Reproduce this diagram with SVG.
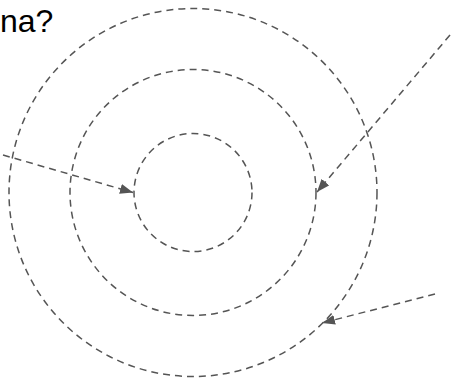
<svg xmlns="http://www.w3.org/2000/svg" width="456" height="380" viewBox="0 0 456 380">
  <style>
    .ring { fill: none; stroke: #555; stroke-width: 1.5; stroke-dasharray: 7 5; }
    .conn { fill: none; stroke: #555; stroke-width: 1.5; stroke-dasharray: 7 5; }
    .label { font-family: "Liberation Sans", Arial, sans-serif; font-size: 32px; fill: #000; }
  </style>
  <defs>
    <marker id="arrow" markerUnits="userSpaceOnUse" markerWidth="15" markerHeight="11" refX="13" refY="5" orient="auto">
      <path d="M0,0 L13,5 L0,10 z" fill="#555"/>
    </marker>
  </defs>
  <rect width="456" height="380" fill="#fff"/>
  <text class="label" x="0" y="32">na?</text>
  <g id="outer"><circle class="ring" cx="193" cy="192.5" r="184"/></g>
  <g id="middle"><circle class="ring" cx="193" cy="192.5" r="123"/></g>
  <g id="inner"><circle class="ring" cx="193" cy="192.5" r="59"/></g>
  <g id="connectors">
    <line class="conn" x1="3" y1="155" x2="133" y2="192.5" marker-end="url(#arrow)"/>
    <line class="conn" x1="450" y1="35" x2="317" y2="192" marker-end="url(#arrow)"/>
    <line class="conn" x1="435" y1="294" x2="322" y2="323" marker-end="url(#arrow)"/>
  </g>
</svg>
